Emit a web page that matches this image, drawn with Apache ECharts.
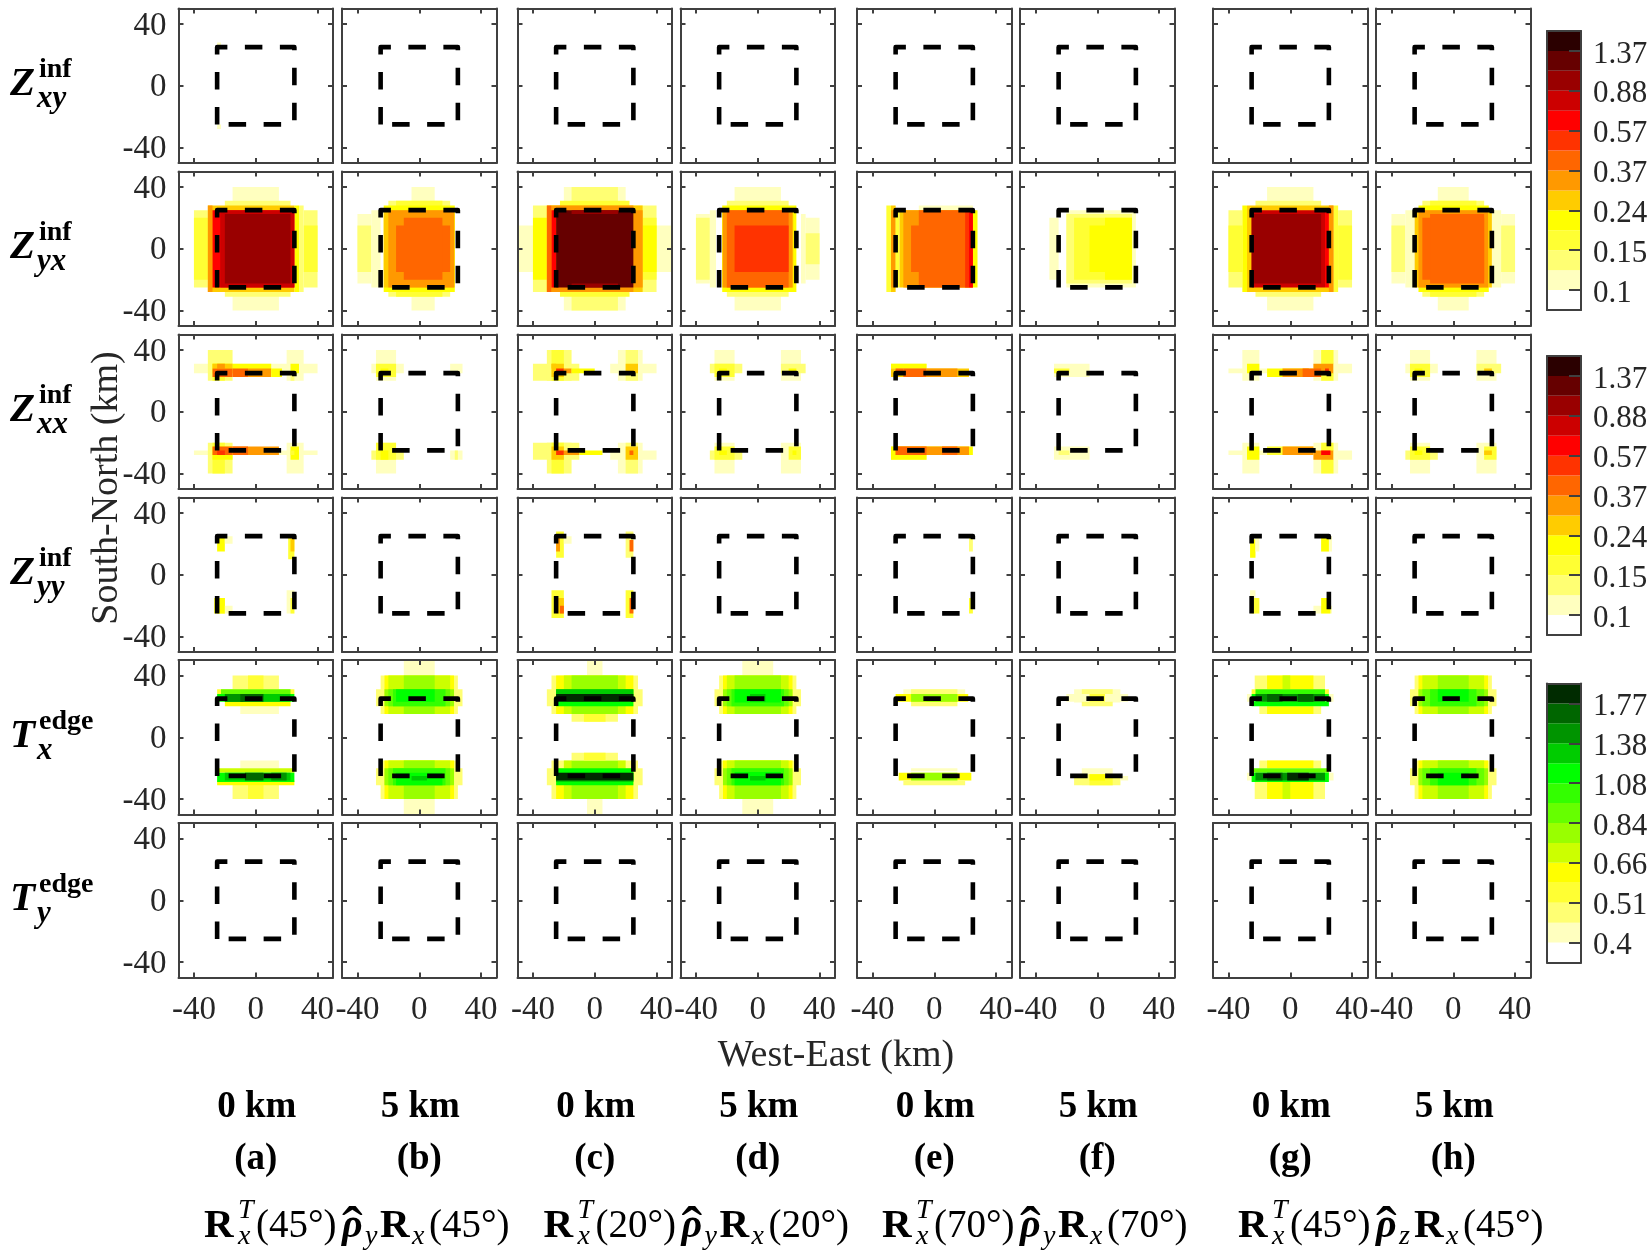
<!DOCTYPE html>
<html><head><meta charset="utf-8"><style>html,body{margin:0;padding:0;background:#fff}#c{width:1652px;height:1255px}</style>
<script src="https://cdn.jsdelivr.net/npm/echarts@6/dist/echarts.min.js"></script></head><body><div id="c"></div>
<script>
// Tick labels and colour bins (bin 0 = white, below the first tick)
const axisTicks=[-40,0,40];
const hotTicks=['0.1','0.15','0.24','0.37','0.57','0.88','1.37'];
const greenTicks=['0.4','0.51','0.66','0.84','1.08','1.38','1.77'];
const hotColors=['#ffffff','#ffffbf','#ffff73','#ffff33','#ffff00','#ffcc00','#ff9900','#ff6600','#ff3300','#ff0000','#cc0000','#990000','#660000','#2b0000'];
const greenColors=['#ffffff','#ffffbf','#ffff73','#ffff33','#ffff00','#ccff00','#99ff00','#66ff00','#33ff00','#00ff00','#00cc00','#009400','#006600','#002b00'];
const bins=[0,1,2,3,4,5,6,7,8,9,10,11,12,13];
const squareKm=[[-25,-25],[-25,25],[25,25],[25,-25],[-25,-25]];
const rowNames=[['Z','inf','xy'],['Z','inf','yx'],['Z','inf','xx'],['Z','inf','yy'],['T','edge','x'],['T','edge','y']];
const depths=['0 km','5 km','0 km','5 km','0 km','5 km','0 km','5 km'];
const letters=['(a)','(b)','(c)','(d)','(e)','(f)','(g)','(h)'];
const angles=['45°','20°','70°','45°'];
const rhoSubs=['y','y','y','z'];

// Each cell block: [west km, east km, south km, north km, colour bin]; later blocks paint over earlier ones
const zxyA=[[-25,-22.5,25,28,1],[-25,-22.5,-28,-25,1]];
const zyxA=[[-15,15,-40,40,1],[-40,-31,-25,25,2],[-40,-31,-20,20,3],[31,40,-25,25,2],[31,40,-15,15,3],[25,28,-28,28,4],[28,31,-28,28,2],[-20,22.5,-31,31,2],[-31,25,-28,28,5],[-31,-28,-28,28,6],[-28,25,-25,25,9],[-23,25,-25,25,10],[-20,22.5,-22.5,22.5,11]];
const zyxB=[[-5,10,-40,40,1],[-40,-31,-22.5,22.5,1],[-40,-31,-15,15,2],[-31,-25,-25,25,1],[-20,20,-31,31,2],[-15,15,-31,31,3],[-23,23,-28,28,4],[-23,23,-25,25,5],[-20,22.5,-25,25,6],[-15,20,-15,15,7],[-10,15,-20,20,7]];
const zyxC=[[-50,50,-15,15,1],[-20,20,-40,40,1],[-15,15,-40,40,2],[-40,40,-28,28,2],[-40,-31,-20,20,4],[31,40,-20,20,3],[31,40,-15,15,4],[-22.5,22.5,-31,31,3],[-31,31,-28,28,5],[-28,25,-28,28,6],[25,31,-25,25,6],[-31,-28,-28,28,7],[-28,-25,-25,25,9],[-25,25,-25,25,12],[-15,15,22.5,25,11],[-15,15,-25,-22.5,11]];
const zyxD=[[-15,15,-40,40,1],[-40,-31,-22.5,22.5,1],[-40,-31,-20,20,2],[-31,-27,-25,25,1],[28,31,-22.5,22.5,1],[31,40,-20,20,1],[31,40,-10,10,2],[-20,20,-31,31,2],[-23,25,-28,28,4],[-23,23,-25,25,5],[-22.5,22.5,-25,25,6],[-20,20,-25,25,7],[-15,20,-15,15,8]];
const zyxE=[[-31,-28,-28,28,3],[-28,-25,-28,28,5],[-28,-25,-25,25,6],[-25,-22.5,-25,25,3],[-10,25,25,28,1],[25,28,-25,25,4],[-22.5,25,-25,25,5],[-20,25,-25,25,6],[-15,25,-15,15,7],[-10,25,-25,25,7],[20,22.5,-25,25,8],[22.5,25,-25,25,9]];
const zyxF=[[-31,-25,-20,20,1],[-20,25,-25,25,1],[-20,22.5,-22.5,22.5,2],[-15,22.5,-20,20,3],[5,22.5,-20,20,4],[-5,22.5,-15,15,4]];
const zyxG=[[-15,15,-40,40,1],[-40,-31,-25,25,2],[-40,-31,-15,15,3],[31,40,-25,25,2],[31,40,-20,15,3],[28,31,-28,28,3],[-31,-28,-28,28,4],[-22.5,20,-31,31,2],[-28,28,-28,28,5],[25,28,-28,28,6],[-25,22.5,-25,25,10],[-25,20,-22.5,22.5,11],[22.5,25,-25,25,9]];
const zyxH=[[-10,10,-40,40,1],[-40,-31,-22.5,22.5,1],[-40,-31,-15,15,2],[-31,-25,-25,25,1],[25,31,-25,25,1],[31,40,-22.5,22.5,1],[31,40,-15,15,2],[-20,20,-31,31,2],[-15,15,-31,31,3],[-22.5,23,-28,28,4],[-25,25,-25,25,5],[-22.5,22.5,-25,25,6],[-20,20,-20,20,7],[-15,20,-22.5,22.5,7]];

const zxxA=[[-40,40,25,31,1],[-31,-15,20,40,2],[-28,-20,20,31,3],[-28,-15,25,31,4],[-15,10,25,31,4],[-28,-15,28,31,5],[-25,-20,28,31,6],[-28,-15,22.5,28,7],[-15,-5,22.5,28,7],[-5,10,22.5,28,6],[10,17,22.5,28,4],[20,31,20,40,1],[22.5,25,20,25,2],[22.5,28,25,31,4],
[-40,40,-28,-25,1],[-31,-15,-40,-20,2],[-28,-20,-40,-20,3],[-28,-15,-31,-22.5,4],[-15,15,-28,-22.5,6],[-15,-5,-28,-22.5,7],[-28,-15,-28,-22.5,7],[-25,-20,-28,-25,8],[20,31,-40,-20,1],[22.5,28,-31,-22.5,4],[22.5,25,-28,-25,3]];
const zxxB=[[-28,-15,20,40,1],[-31,-10,25,31,1],[-28,-15,22.5,31,3],[-25,-20,25,28,4],[20,28,25,31,1],[-28,-15,-40,-20,1],[-31,-10,-31,-25,2],[-28,-15,-31,-20,3],[-25,-20,-31,-25,4],[20,28,-31,-25,1],[23,25,-31,-25,2]];
const zxxC=[[-40,-10,20,31,2],[-31,-15,20,40,2],[-28,-20,20,40,3],[-28,-20,22.5,31,5],[-28,-25,28,31,5],[-25,-20,25,28,8],[-20,-15,25,28,6],[-15,0,25,28,4],[10,40,25,31,1],[15,31,20,40,1],[20,28,20,40,2],[20,28,25,31,5],
[-40,-10,-31,-20,2],[-31,-15,-40,-20,2],[-28,-20,-40,-20,3],[-28,-20,-31,-22.5,5],[-25,-20,-28,-25,8],[-20,-10,-28,-25,6],[-10,5,-28,-25,4],[10,40,-31,-25,1],[15,31,-40,-20,1],[20,28,-40,-20,2],[20,28,-31,-22.5,5],[22.5,25,-28,-25,7]];
const zxxD=[[-28,-15,20,40,1],[-31,-10,25,31,2],[-28,-15,22.5,31,3],[-25,-20,25,28,4],[15,28,20,40,1],[15,31,25,31,2],[20,25,25,28,4],[-28,-15,-40,-20,1],[-31,-10,-31,-25,2],[-28,-15,-31,-22.5,3],[-25,-20,-28,-25,4],[15,28,-40,-20,1],[20,28,-31,-22.5,3],[22.5,25,-28,-25,4]];
const zxxE=[[-28,-5,22.5,31,2],[-28,-5,28,31,4],[-28,22.5,22.5,28,5],[-20,-5,22.5,28,7],[-5,15,22.5,28,6],[-25,-20,25,28,7],[-28,-5,-31,-22.5,2],[-28,-5,-31,-28,4],[-28,25,-28,-22.5,4],[-25,22.5,-28,-22.5,6],[-25,-5,-28,-22.5,7],[5,15,-28,-22.5,7]];
const zxxF=[[-28,-5,22.5,31,1],[-28,-18,25,28,3],[-28,-5,-31,-22.5,1],[-25,-18,-28,-25,2]];
const zxxG=[[-31,-20,20,40,1],[-40,-15,25,28,1],[-28,-20,25,31,4],[-15,15,22.5,28,4],[15,31,20,40,1],[20,28,20,40,3],[15,28,25,31,6],[-5,12,22.5,28,6],[8,20,22.5,28,7],[22.5,25,25,28,8],[28,40,25,31,1],
[-31,-20,-40,-20,1],[-40,-15,-28,-25,1],[-28,-20,-31,-22.5,4],[-15,15,-28,-22.5,3],[15,31,-40,-20,1],[20,28,-40,-20,3],[15,28,-31,-25,6],[-5,15,-28,-22.5,6],[20,26,-28,-25,9],[28,40,-31,-25,1]];
const zxxH=[[-28,-15,20,40,1],[-31,-10,25,31,1],[-28,-15,22.5,31,3],[-25,-20,25,28,4],[15,28,20,40,1],[15,31,25,31,2],[20,25,25,28,5],[-28,-15,-40,-20,1],[-31,-10,-31,-25,2],[-28,-15,-31,-22.5,3],[-25,-20,-28,-25,4],[15,28,-40,-20,1],[20,28,-31,-22.5,3],[20,25,-28,-25,5]];

const zyyA=[[-25,-20,15,25,4],[-20,-15,20,25,1],[21,25,10,25,3],[22.5,25,15,25,5],[-27,-20,-25,-15,3],[-25,-20,-25,-15,4],[-20,-15,-25,-20,1],[20,25,-25,-10,1],[22.5,25,-25,-15,3]];
const zyyC=[[-25,-20,11,28,3],[-25,-22.5,15,25,6],[-20,-15,20,25,1],[20,25,11,28,2],[22.5,25,15,22.5,7],[-28,-20,-28,-10,3],[-25,-20,-25,-15,5],[-22.5,-20,-25,-20,7],[20,25,-28,-10,3],[22.5,25,-25,-15,7]];
const zyyE=[[22.5,25,15,25,2],[22.5,25,-25,-15,3]];
const zyyG=[[-26,-22.5,11,23,4],[-22.5,-20,15,25,1],[20,27,15,25,1],[20,25,15,25,4],[-26,-22.5,-25,-10,1],[-25,-20,-25,-15,3],[15,27,-25,-20,1],[20,26,-25,-15,4]];

const txA=[[-15,15,31,40,2],[-5,5,31,40,3],[-10,15,15,20,1],[-20,22.5,20,23,4],[-25,25,28,31,3],[-22.5,22.5,28,31,7],[-25,25,23,28,9],[-20,22.5,23,28,10],[-20,-8,23,28,11],[-10,5,23,28,12],
[-15,15,-40,-29,2],[-5,5,-40,-29,3],[-10,15,-20,-15,1],[-25,25,-23,-20,5],[-25,25,-31,-28,4],[-25,25,-29,-23,9],[-20,22.5,-28,-23,10],[-7,5,-28,-23,12],[10,20,-28,-23,11]];
const txB=[[-10,10,40,50,1],[-25,25,15,40,2],[-28,28,20,31,2],[-22.5,22.5,15,40,4],[-20,20,15,40,5],[-10,10,15,40,6],[-22.5,22.5,20,31,6],[-20,20,20,31,7],[-17,17,20,31,8],[-15,10,23,31,9],
[-10,10,-50,-40,1],[-25,25,-40,-15,2],[-28,28,-31,-20,2],[-22.5,22.5,-40,-15,4],[-20,20,-40,-15,5],[-10,10,-40,-15,6],[-22.5,22.5,-31,-20,6],[-20,20,-31,-20,7],[-17,17,-31,-20,8],[-15,15,-31,-23,9],[-5,5,-28,-25,10]];
const txC=[[-5,5,40,50,1],[-28,28,15,40,2],[-31,31,20,31,2],[-25,25,15,40,4],[-20,20,15,40,5],[-15,15,15,40,6],[-15,15,10,15,2],[-7,7,10,15,3],[-25,25,20,31,9],[-25,25,23,31,10],[-25,25,23,28,13],
[-5,5,-50,-40,1],[-28,28,-40,-15,2],[-31,31,-31,-20,2],[-25,25,-40,-20,4],[-20,20,-40,-15,5],[-15,15,-40,-15,6],[-15,15,-15,-10,2],[-7,7,-15,-10,3],[-25,25,-31,-20,9],[-25,25,-29,-23,10],[-25,25,-28,-23,13]];
const txD=[[-10,10,40,50,1],[-25,25,15,40,2],[-28,28,20,31,2],[-22.5,22.5,15,40,4],[-20,20,15,40,5],[-15,15,15,40,6],[-22.5,22.5,20,31,6],[-20,20,20,31,7],[-17,17,20,31,8],[-15,15,22.5,31,9],[-5,5,23,28,10],
[-10,10,-50,-40,1],[-25,25,-40,-15,2],[-28,28,-31,-20,2],[-22.5,22.5,-40,-15,4],[-20,20,-40,-15,5],[-15,15,-40,-15,6],[-22.5,22.5,-31,-20,6],[-20,20,-31,-20,7],[-17,17,-31,-20,8],[-15,15,-31,-22.5,9],[-5,5,-28,-25,10]];
const txE=[[-20,20,25,31,1],[-15,15,20,31,2],[-25,22,23,28,4],[-15,15,23,28,6],[-5,5,23,28,6],
[-23,24,-28,-23,4],[-20,20,-31,-28,2],[-15,15,-22,-20,1],[-15,15,-28,-23,6]];
const txF=[[-15,15,22.5,31,1],[-10,10,20,31,2],[-20,20,23,28,1],[-5,5,23,28,3],
[-10,10,-31,-20,1],[-15,15,-31,-24,2],[-5,10,-31,-24,3],[-5,5,-28,-24,4],[15,20,-28,-25,1]];
const txG=[[-23,22.5,31,40,2],[-15,15,31,40,4],[-5,0,31,40,5],[-20,20,15,20,2],[-15,15,15,20,4],[-28,28,23,28,1],[-25,25,28,31,3],[-22.5,22.5,28,31,8],[-25,25,20,23,9],[-25,25,23,28,9],[-22.5,22.5,23,28,11],[-15,-5,23,28,12],[5,15,23,28,12],
[-23,22.5,-40,-29,2],[-15,15,-40,-29,4],[-5,0,-40,-29,5],[-20,20,-20,-15,2],[-15,15,-20,-15,4],[-28,28,-28,-23,1],[-25,25,-23,-20,7],[-25,25,-29,-23,9],[-22.5,22.5,-28,-23,11],[-15,-5,-28,-23,12],[-2,12,-28,-23,13]];
const txH=[[-10,10,31,40,1],[-25,25,15,40,2],[-28,28,20,31,2],[-22.5,22.5,15,40,4],[-20,20,15,40,5],[-10,10,15,40,6],[-22.5,22.5,20,31,6],[-20,20,20,31,7],[-15,15,20,31,8],[-10,10,23,31,9],
[-10,10,-40,-31,1],[-25,25,-40,-15,2],[-28,28,-31,-20,2],[-22.5,22.5,-40,-15,4],[-20,20,-40,-15,5],[-10,10,-40,-15,6],[-22.5,22.5,-31,-20,6],[-20,20,-31,-20,7],[-15,15,-31,-20,8],[-10,10,-31,-23,9]];

const panelTable=[
 [zxyA,[],[],[],[],[],[],[]],
 [zyxA,zyxB,zyxC,zyxD,zyxE,zyxF,zyxG,zyxH],
 [zxxA,zxxB,zxxC,zxxD,zxxE,zxxF,zxxG,zxxH],
 [zyyA,[],zyyC,[],zyyE,[],zyyG,[]],
 [txA,txB,txC,txD,txE,txF,txG,txH],
 [[],[],[],[],[],[],[],[]]
];

// Layout
const colLeft=[178.5,342,517.5,680.5,857,1020,1213,1376];
const rowTop=[8.5,171.5,334.5,497.5,660,823];
const cell=154.5;
const barTops=[31,356,683.5];
const FONT='"Liberation Serif","Times New Roman",serif';
const INK='#262626', FRAME='#404040';

const grids=[],xAxes=[],yAxes=[],series=[],gfx=[];
function rectItem(palette){
  return function(params,api){
    const a=api.coord([api.value(0),api.value(3)]),b=api.coord([api.value(1),api.value(2)]);
    return {type:'rect',shape:{x:a[0],y:a[1],width:b[0]-a[0],height:b[1]-a[1]},style:{fill:palette[api.value(4)]}};
  };
}
function addAxes(gi,opts){
  const line={show:true,onZero:false,lineStyle:{color:FRAME,width:2}};
  const tick=(on)=>({show:on,inside:true,length:5,customValues:axisTicks,lineStyle:{color:FRAME,width:2}});
  const base={type:'value',min:-50,max:50,gridIndex:gi,splitLine:{show:false},axisLine:line,silent:true,z:5};
  xAxes.push(Object.assign({},base,{position:'bottom',axisTick:tick(true),axisLabel:{show:opts.xl,margin:16,customValues:axisTicks,fontFamily:FONT,fontSize:33,color:INK}}));
  xAxes.push(Object.assign({},base,{position:'top',axisTick:tick(true),axisLabel:{show:false}}));
  yAxes.push(Object.assign({},base,{position:'left',axisTick:tick(true),axisLabel:{show:opts.yl,margin:12,verticalAlign:'top',lineHeight:4,customValues:axisTicks,fontFamily:FONT,fontSize:33,color:INK}}));
  yAxes.push(Object.assign({},base,{position:'right',axisTick:tick(true),axisLabel:{show:false}}));
}
panelTable.forEach((row,r)=>row.forEach((cells,c)=>{
  const gi=grids.length;
  grids.push({left:colLeft[c],top:rowTop[r],width:cell,height:cell,show:false});
  addAxes(gi,{xl:r===5,yl:c===0});
  const ax=xAxes.length-2, ay=yAxes.length-2;
  if(cells.length) series.push({type:'custom',xAxisIndex:ax,yAxisIndex:ay,z:2,silent:true,clip:true,encode:{x:[0,1],y:[2,3]},
    renderItem:rectItem(r>=4?greenColors:hotColors),data:cells});
  series.push({type:'line',xAxisIndex:ax,yAxisIndex:ay,z:3,silent:true,symbol:'none',showSymbol:false,clip:false,data:squareKm,
    lineStyle:{color:'#000',width:4.6,type:[17.5,17.5],cap:'butt',join:'round'}});
}));
// colour bars
barTops.forEach((top,i)=>{
  const gi=grids.length, labels=i===2?greenTicks:hotTicks, pal=i===2?greenColors:hotColors;
  const pos=[1,3,5,7,9,11,13];
  grids.push({left:1547,top:top,width:34,height:279,show:false});
  const line={show:true,onZero:false,lineStyle:{color:FRAME,width:2}};
  xAxes.push({type:'value',gridIndex:gi,min:0,max:1,position:'bottom',axisLine:line,axisTick:{show:false},axisLabel:{show:false},splitLine:{show:false},z:5});
  xAxes.push({type:'value',gridIndex:gi,min:0,max:1,position:'top',axisLine:line,axisTick:{show:false},axisLabel:{show:false},splitLine:{show:false},z:5});
  yAxes.push({type:'value',gridIndex:gi,min:0,max:14,position:'left',axisLine:line,axisTick:{show:false},axisLabel:{show:false},splitLine:{show:false},z:5});
  yAxes.push({type:'value',gridIndex:gi,min:0,max:14,position:'right',axisLine:line,splitLine:{show:false},z:5,
    axisTick:{show:true,inside:true,length:12,customValues:pos,lineStyle:{color:FRAME,width:2}},
    axisLabel:{show:true,margin:12,verticalAlign:'top',lineHeight:7,customValues:pos,fontFamily:FONT,fontSize:31,color:INK,formatter:v=>labels[pos.indexOf(v)]}});
  series.push({type:'custom',xAxisIndex:xAxes.length-2,yAxisIndex:yAxes.length-2,z:2,silent:true,encode:{y:0},
    renderItem:(p,api)=>{const a=api.coord([0,api.value(0)+1]),b=api.coord([1,api.value(0)]);
      return {type:'rect',shape:{x:a[0],y:a[1],width:b[0]-a[0],height:b[1]-a[1]},style:{fill:pal[api.value(0)]}};},
    data:bins.map(b=>[b])});
});
// text
function T(text,x,base,size,o){
  o=o||{};
  gfx.push({type:'text',silent:true,x:x,y:base-0.22*size,rotation:o.rot||0,z:20,style:{text:text,x:0,y:0,fontFamily:o.fam||FONT,fontSize:size,
    fontWeight:o.b?'bold':'normal',fontStyle:o.i?'italic':'normal',fill:o.c||'#000',align:o.a||'left',verticalAlign:'middle'}});
}
rowNames.forEach((n,r)=>{
  const b=93+163*r;
  T(n[0],10,b,41,{b:1,i:1});
  T(n[1],39,b-17,28,{b:1});
  T(n[2],37,b+13,31,{b:1,i:1});
});
colLeft.forEach((x,c)=>{
  const m=x+cell/2;
  T(depths[c],m+1,1116,37,{b:1,a:'center'});
  T(letters[c],m,1168,37,{b:1,a:'center'});
});
gfx.push({type:'text',silent:true,x:107,y:488,rotation:Math.PI/2,z:20,style:{text:'South-North (km)',x:0,y:0,fontFamily:FONT,fontSize:38,fill:INK,align:'center',verticalAlign:'middle'}});
T('West-East (km)',836,1064,38,{a:'center',c:INK});
const formulaX=[0,339.5,678,1034];
angles.forEach((ang,g)=>{
  const d=formulaX[g], b=1235;
  T('R',204+d,b,41,{b:1});
  T('T',238+d,b-18,28,{i:1});
  T('x',238+d,b+8,28,{i:1});
  T('('+ang+')',256+d,b,39);
  T('ρ',342+d,b,40,{b:1,i:1});
  T('ˆ',342+d,b+11,62);
  T(rhoSubs[g],365+d,b+8,28,{i:1});
  T('R',380+d,b,41,{b:1});
  T('x',412+d,b+8,28,{i:1});
  T('('+ang+')',429+d,b,39);
});
echarts.init(document.getElementById('c'),null,{renderer:'canvas'}).setOption({
  animation:false,backgroundColor:'#fff',grid:grids,xAxis:xAxes,yAxis:yAxes,series:series,graphic:{elements:gfx}
});
</script></body></html>
